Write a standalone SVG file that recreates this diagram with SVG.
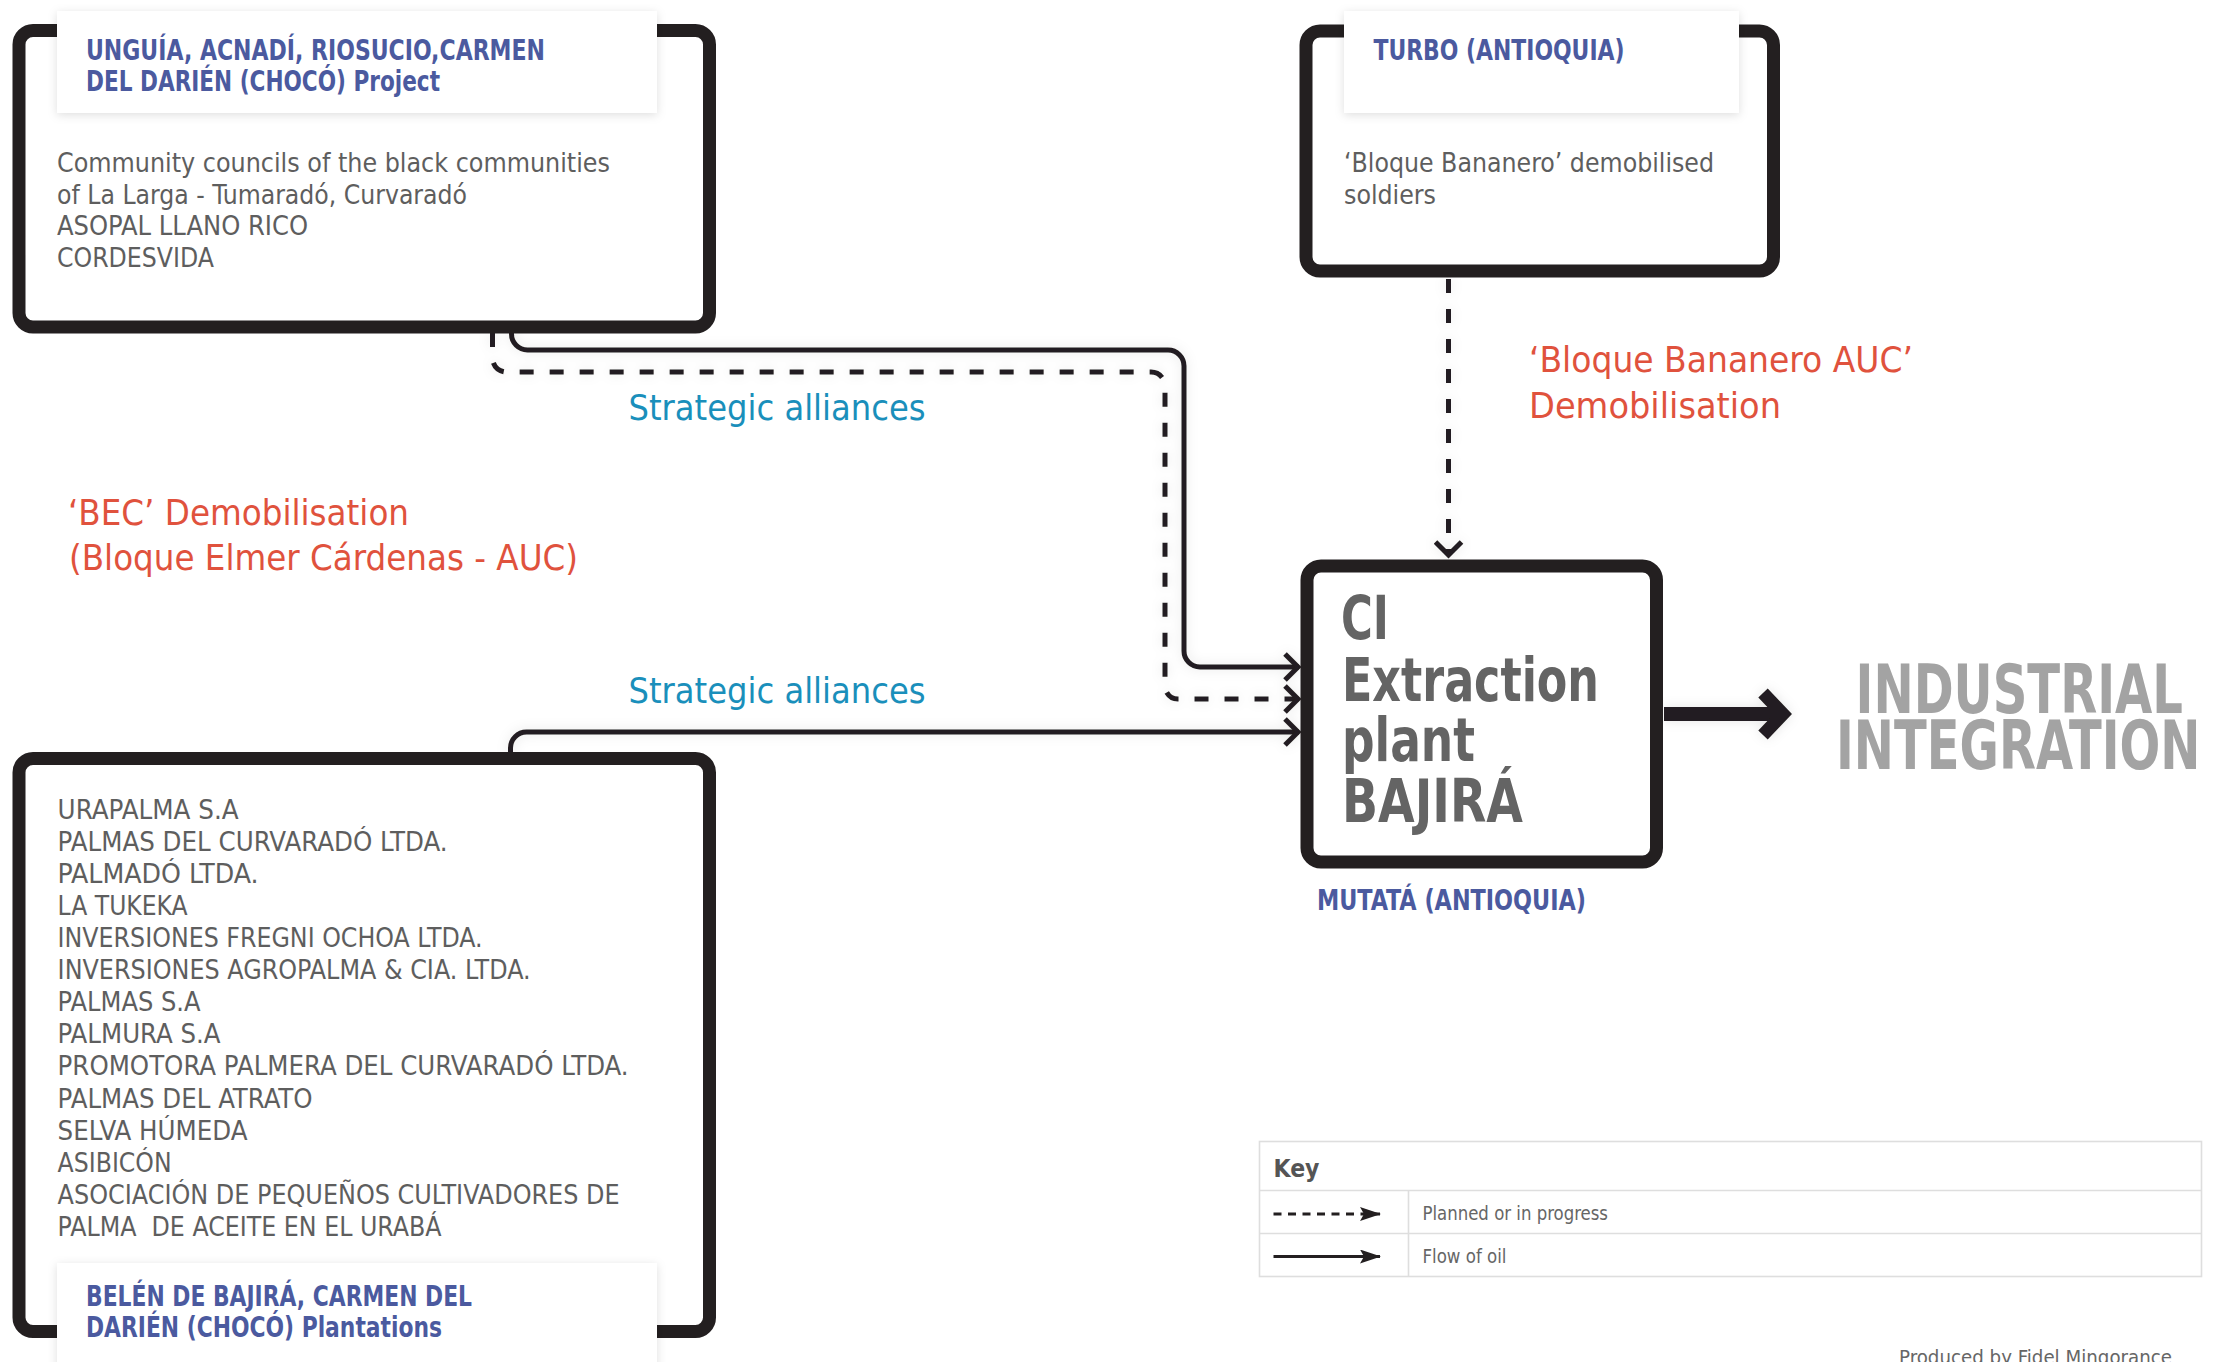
<svg xmlns="http://www.w3.org/2000/svg" width="2223" height="1362" viewBox="0 0 2223 1362">
<defs>
<filter id="soft" x="-10%" y="-10%" width="120%" height="130%">
<feDropShadow dx="0" dy="2" stdDeviation="5" flood-color="#000" flood-opacity="0.13"/>
</filter>
<filter id="glow" x="-5%" y="-5%" width="110%" height="110%">
<feDropShadow dx="0" dy="0" stdDeviation="6" flood-color="#000" flood-opacity="0.10"/>
</filter>
<marker id="chev" viewBox="0 0 20 30" refX="17" refY="15" markerWidth="20" markerHeight="30" markerUnits="userSpaceOnUse" orient="auto">
<path d="M3,2 L16,15 L3,28" fill="none" stroke="#231f20" stroke-width="5" stroke-linejoin="miter"/>
</marker>
<marker id="keyhead" viewBox="0 0 22 14" refX="20" refY="7" markerWidth="22" markerHeight="14" markerUnits="userSpaceOnUse" orient="auto">
<path d="M0,0 L21,7 L0,14 L4,7 Z" fill="#231f20"/>
</marker>
</defs>
<style>
.box{fill:#fff;stroke:#231f20;stroke-width:13}
.tab{fill:#fff;filter:url(#soft)}
.ttl{font-family:'Liberation Sans Narrow','DejaVu Sans Condensed','Liberation Sans',sans-serif;font-weight:bold;fill:#4b5a9f;font-size:29px}
.body{font-family:'Liberation Sans Narrow','DejaVu Sans Condensed','Liberation Sans',sans-serif;fill:#5e5e5e;font-size:27px}
.red{font-family:'Liberation Sans Narrow','DejaVu Sans Condensed','Liberation Sans',sans-serif;fill:#e0523d;font-size:36px}
.teal{font-family:'Liberation Sans Narrow','DejaVu Sans Condensed','Liberation Sans',sans-serif;fill:#1a8fbb;font-size:36px}
.plant{font-family:'Liberation Sans Narrow','DejaVu Sans Condensed','Liberation Sans',sans-serif;font-weight:bold;fill:#646464;font-size:61px}
.ind{font-family:'Liberation Sans Narrow','DejaVu Sans Condensed','Liberation Sans',sans-serif;font-weight:bold;fill:#a3a3a3;font-size:67px}
.solid{fill:none;stroke:#231f20;stroke-width:5}
.dash{fill:none;stroke:#231f20;stroke-width:5;stroke-dasharray:14 16}
.keyline{fill:none;stroke:#dedede;stroke-width:1.6}
.keyt{font-family:'Liberation Sans Narrow','DejaVu Sans Condensed','Liberation Sans',sans-serif;fill:#666;font-size:19.5px}
</style>
<rect width="2223" height="1362" fill="#fff"/>

<g id="connectors" filter="url(#glow)">
<path class="solid" d="M511.5,328 V334 A16,16 0 0 0 527.5,350 H1168 A16,16 0 0 1 1184,366 V651 A16,16 0 0 0 1200,667 H1299" marker-end="url(#chev)"/>
<path class="dash" d="M492.5,333 V358 A14,14 0 0 0 506.5,372 H1151 A14,14 0 0 1 1165,386 V686 A13,13 0 0 0 1178,699 H1299" marker-end="url(#chev)"/>
<path class="solid" d="M510.5,756 V748 A16,16 0 0 1 526.5,732 H1299" marker-end="url(#chev)"/>
<path class="dash" d="M1448.5,279 V556" marker-end="url(#chev)"/>
<line x1="1664" y1="714" x2="1778" y2="714" stroke="#231f20" stroke-width="14"/>
<polyline points="1763,693 1783,714 1763,735" fill="none" stroke="#231f20" stroke-width="13" stroke-linejoin="miter" stroke-miterlimit="4"/>
</g>

<g id="node-unguia">
<rect class="box" x="19" y="30.5" width="690.5" height="296.5" rx="14"/>
<rect class="tab" x="57" y="11" width="600" height="102"/>
<text class="ttl" x="86" y="59.5" textLength="459" lengthAdjust="spacingAndGlyphs">UNGUÍA, ACNADÍ, RIOSUCIO,CARMEN</text>
<text class="ttl" x="86" y="91" textLength="354" lengthAdjust="spacingAndGlyphs">DEL DARIÉN (CHOCÓ) Project</text>
<text class="body" x="57" y="172" textLength="553" lengthAdjust="spacingAndGlyphs">Community councils of the black communities</text>
<text class="body" x="57" y="203.5" textLength="410" lengthAdjust="spacingAndGlyphs">of La Larga - Tumaradó, Curvaradó</text>
<text class="body" x="57" y="235" textLength="251" lengthAdjust="spacingAndGlyphs">ASOPAL LLANO RICO</text>
<text class="body" x="57" y="267" textLength="157" lengthAdjust="spacingAndGlyphs">CORDESVIDA</text>
</g>

<g id="node-turbo">
<rect class="box" x="1306" y="31" width="467.5" height="240" rx="14"/>
<rect class="tab" x="1344" y="11" width="395" height="102"/>
<text class="ttl" x="1373.5" y="59.5" textLength="251" lengthAdjust="spacingAndGlyphs">TURBO (ANTIOQUIA)</text>
<text class="body" x="1344" y="172" textLength="370" lengthAdjust="spacingAndGlyphs">‘Bloque Bananero’ demobilised</text>
<text class="body" x="1344" y="203.5" textLength="92" lengthAdjust="spacingAndGlyphs">soldiers</text>
</g>

<g id="node-plant">
<rect class="box" x="1307" y="566" width="349.5" height="296" rx="14"/>
<text class="plant" x="1341" y="639" textLength="48" lengthAdjust="spacingAndGlyphs">CI</text>
<text class="plant" x="1342" y="701" textLength="257" lengthAdjust="spacingAndGlyphs">Extraction</text>
<text class="plant" x="1342" y="761" textLength="133" lengthAdjust="spacingAndGlyphs">plant</text>
<text class="plant" x="1342" y="822" textLength="181" lengthAdjust="spacingAndGlyphs">BAJIRÁ</text>
<text class="ttl" x="1317" y="910" textLength="269" lengthAdjust="spacingAndGlyphs">MUTATÁ (ANTIOQUIA)</text>
</g>

<g id="node-belen">
<rect class="box" x="19" y="758.5" width="690.5" height="573" rx="14"/>
<g class="body">
<text x="57.6" y="818.6" textLength="181" lengthAdjust="spacingAndGlyphs">URAPALMA S.A</text>
<text x="57.6" y="850.7" textLength="390" lengthAdjust="spacingAndGlyphs">PALMAS DEL CURVARADÓ LTDA.</text>
<text x="57.6" y="882.8" textLength="201" lengthAdjust="spacingAndGlyphs">PALMADÓ LTDA.</text>
<text x="57.6" y="914.9" textLength="130" lengthAdjust="spacingAndGlyphs">LA TUKEKA</text>
<text x="57.6" y="947" textLength="425" lengthAdjust="spacingAndGlyphs">INVERSIONES FREGNI OCHOA LTDA.</text>
<text x="57.6" y="979.1" textLength="473" lengthAdjust="spacingAndGlyphs">INVERSIONES AGROPALMA &amp; CIA. LTDA.</text>
<text x="57.6" y="1011.2" textLength="143" lengthAdjust="spacingAndGlyphs">PALMAS S.A</text>
<text x="57.6" y="1043.3" textLength="163" lengthAdjust="spacingAndGlyphs">PALMURA S.A</text>
<text x="57.6" y="1075.4" textLength="571" lengthAdjust="spacingAndGlyphs">PROMOTORA PALMERA DEL CURVARADÓ LTDA.</text>
<text x="57.6" y="1107.5" textLength="255" lengthAdjust="spacingAndGlyphs">PALMAS DEL ATRATO</text>
<text x="57.6" y="1139.6" textLength="190" lengthAdjust="spacingAndGlyphs">SELVA HÚMEDA</text>
<text x="57.6" y="1171.7" textLength="114" lengthAdjust="spacingAndGlyphs">ASIBICÓN</text>
<text x="57.6" y="1203.8" textLength="562" lengthAdjust="spacingAndGlyphs">ASOCIACIÓN DE PEQUEÑOS CULTIVADORES DE</text>
<text x="57.6" y="1235.9" textLength="384" lengthAdjust="spacingAndGlyphs" style="white-space:pre">PALMA  DE ACEITE EN EL URABÁ</text>
</g>
<rect class="tab" x="57" y="1263" width="600" height="120"/>
<text class="ttl" x="86" y="1305.5" textLength="386" lengthAdjust="spacingAndGlyphs">BELÉN DE BAJIRÁ, CARMEN DEL</text>
<text class="ttl" x="86" y="1337" textLength="356" lengthAdjust="spacingAndGlyphs">DARIÉN (CHOCÓ) Plantations</text>
</g>

<g id="labels">
<text class="red" x="1529" y="372" textLength="384" lengthAdjust="spacingAndGlyphs">‘Bloque Bananero AUC’</text>
<text class="red" x="1529" y="418" textLength="252" lengthAdjust="spacingAndGlyphs">Demobilisation</text>
<text class="red" x="68" y="525" textLength="341" lengthAdjust="spacingAndGlyphs">‘BEC’ Demobilisation</text>
<text class="red" x="69" y="570" textLength="509" lengthAdjust="spacingAndGlyphs">(Bloque Elmer Cárdenas - AUC)</text>
<text class="teal" x="628.5" y="420" textLength="297" lengthAdjust="spacingAndGlyphs">Strategic alliances</text>
<text class="teal" x="628.5" y="703" textLength="297" lengthAdjust="spacingAndGlyphs">Strategic alliances</text>
</g>

<g id="node-industrial">
<text class="ind" x="1855.5" y="713" textLength="327.5" lengthAdjust="spacingAndGlyphs">INDUSTRIAL</text>
<text class="ind" x="1836" y="769" textLength="364.5" lengthAdjust="spacingAndGlyphs">INTEGRATION</text>
</g>

<g id="key">
<rect class="keyline" x="1259.5" y="1141.5" width="942" height="135" fill="#fff"/>
<line class="keyline" x1="1259.5" y1="1190.5" x2="2201.5" y2="1190.5"/>
<line class="keyline" x1="1259.5" y1="1233.5" x2="2201.5" y2="1233.5"/>
<line class="keyline" x1="1408.5" y1="1190.5" x2="1408.5" y2="1276.5"/>
<text x="1273.5" y="1176.5" font-family="'Liberation Sans Narrow','DejaVu Sans Condensed','Liberation Sans',sans-serif" font-weight="bold" font-size="24" fill="#555" textLength="46" lengthAdjust="spacingAndGlyphs">Key</text>
<line x1="1273.5" y1="1214" x2="1380" y2="1214" stroke="#231f20" stroke-width="3" stroke-dasharray="8 6.5" marker-end="url(#keyhead)"/>
<line x1="1273.5" y1="1256.5" x2="1380" y2="1256.5" stroke="#231f20" stroke-width="3" marker-end="url(#keyhead)"/>
<text class="keyt" x="1422.5" y="1219.5" textLength="185.5" lengthAdjust="spacingAndGlyphs">Planned or in progress</text>
<text class="keyt" x="1422.5" y="1262.5" textLength="84" lengthAdjust="spacingAndGlyphs">Flow of oil</text>
</g>

<text x="1899" y="1364" font-family="'Liberation Sans Narrow','DejaVu Sans Condensed','Liberation Sans',sans-serif" font-size="20" fill="#666" textLength="273" lengthAdjust="spacingAndGlyphs">Produced by Fidel Mingorance</text>
</svg>
